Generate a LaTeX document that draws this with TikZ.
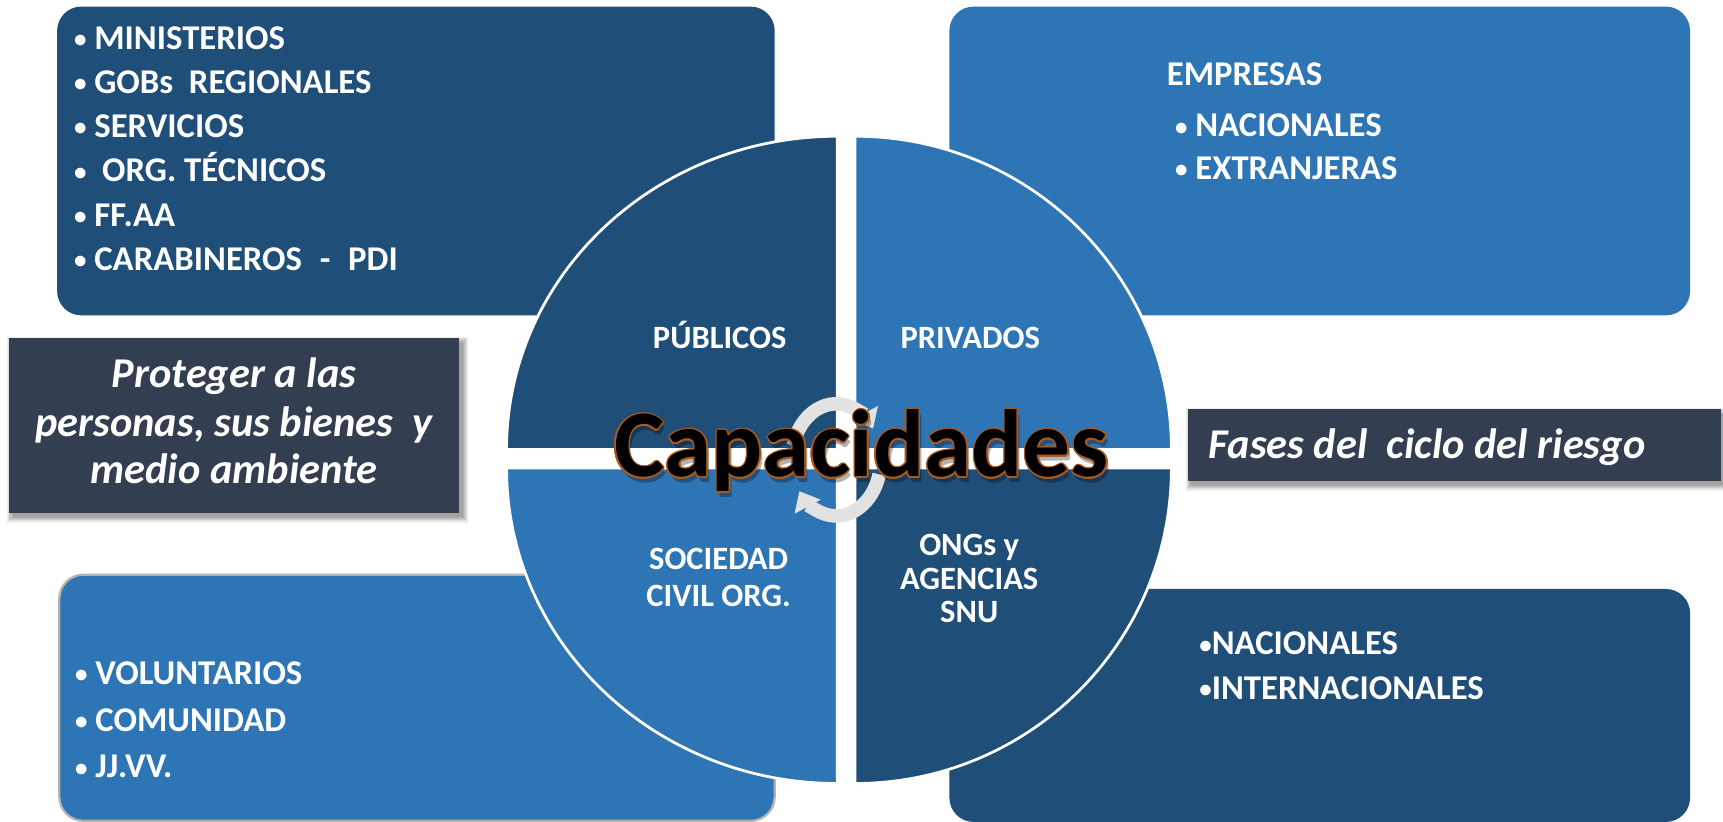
\documentclass[tikz,border=0pt]{standalone}
\usepackage{fontspec}
\setmainfont{Carlito}
\usetikzlibrary{arrows.meta,calc}
\definecolor{dblue}{HTML}{1F4E79}
\definecolor{mblue}{HTML}{2E75B6}
\definecolor{slate}{HTML}{333F50}
\definecolor{ringgray}{HTML}{E2E2E2}
\definecolor{capedge}{HTML}{A85A1E}
\newcommand\myitemfont{\fontsize{15.8}{19}\selectfont\bfseries}
\newcommand\mylabelfont{\fontsize{14.8}{18}\selectfont\bfseries}
\newcommand\myitalfont{\fontsize{19.3}{23}\selectfont\bfseries\itshape}
\newcommand\mycapfont{\fontsize{43.4}{50}\selectfont\bfseries}
\newcommand\mybul{\raisebox{0.1ex}{\scalebox{0.72}{•}}}
\begin{document}
\begin{tikzpicture}[x=0.5pt,y=-0.5pt,
  item/.style={text=white,font=\myitemfont,anchor=base west,inner sep=0pt},
  qlabel/.style={text=white,font=\mylabelfont,anchor=base,inner sep=0pt},
  ital/.style={text=white,font=\myitalfont,inner sep=0pt},
  bigbox/.style={rounded corners=11pt},
  quad/.style={draw=white,line width=1.25pt},
  ring/.style={ringgray,line width=6.2pt,-{Triangle[width=13pt,length=8pt]}},
  shadowlayer/.style={fill=black,opacity=0.07},
  captext/.style={anchor=base,font=\mycapfont,inner sep=0pt},
]
\useasboundingbox (0,0) rectangle (1568,748);
\fill[white] (0,0) rectangle (1568,748);

% outer boxes
\fill[dblue,bigbox] (52,6) rectangle (705,287);
\fill[mblue,bigbox] (864,6) rectangle (1538,287);
\filldraw[fill=mblue,draw=gray!60,line width=1pt,bigbox] (54,523) rectangle (705,747);
\fill[dblue,bigbox] (864,536) rectangle (1538,748);

% quadrants
\filldraw[fill=dblue,quad] (762,409) -- (461,409) arc[start angle=180,end angle=270,x radius=301,y radius=285] -- cycle;
\filldraw[fill=mblue,quad] (778,409) -- (778,124) arc[start angle=270,end angle=360,x radius=288,y radius=285] -- cycle;
\filldraw[fill=mblue,quad] (762,426) -- (461,426) arc[start angle=180,end angle=90,x radius=301,y radius=287] -- cycle;
\filldraw[fill=dblue,quad] (778,426) -- (1066,426) arc[start angle=0,end angle=90,x radius=288,y radius=287] -- cycle;

% side dark boxes with shadows
\foreach \i in {1,...,6}{
  \fill[shadowlayer] (8.5+4-\i,307.8+5-\i) rectangle (418+2+\i,466.5+3+\i);
  \fill[shadowlayer] (1081+4-\i,372.5+5-\i) rectangle (1566+2+\i,437.4+3+\i);
}
\fill[slate] (8.5,307.8) rectangle (418,466.5);
\fill[slate] (1081,372.5) rectangle (1566,437.4);

% lists
\node[item] (m1) at (67,44.9) {\mybul\ MINISTERIOS};
\node[item] (m2) at (67,85.1) {\mybul\ GOBs\ \ REGIONALES};
\node[item] (m3) at (67,125.3) {\mybul\ SERVICIOS};
\node[item] (m4) at (67,165.5) {\mybul\ \ ORG. TÉCNICOS};
\node[item] (m5) at (67,205.7) {\mybul\ FF.AA};
\node[item] (m6) at (67,245.9) {\mybul\ CARABINEROS\hspace{4.5pt} -\hspace{4.5pt} PDI};

\node[item] (e0) at (1061.5,78) {EMPRESAS};
\node[item] (e1) at (1069,124.4) {\mybul\ NACIONALES};
\node[item] (e2) at (1069,163.2) {\mybul\ EXTRANJERAS};

\node[item] (v1) at (68,623) {\mybul\ VOLUNTARIOS};
\node[item] (v2) at (68,665.8) {\mybul\ COMUNIDAD};
\node[item] (v3) at (68,708) {\mybul\ JJ.VV.};

\node[item] (n1) at (1091,596) {\mybul NACIONALES};
\node[item] (n2) at (1091,636.3) {\mybul INTERNACIONALES};

% quadrant labels
\node[qlabel] (q1) at (655,317.6) {PÚBLICOS};
\node[qlabel] (q2) at (883,317.6) {PRIVADOS};
\node[qlabel] (q3a) at (654,518.7) {SOCIEDAD};
\node[qlabel] (q3b) at (654,552) {CIVIL ORG.};
\node[qlabel] (q4a) at (882,505.8) {ONGs y};
\node[qlabel] (q4b) at (882,536.2) {AGENCIAS};
\node[qlabel] (q4c) at (882,566.6) {SNU};

% side texts
\node[ital,anchor=base] (p1) at (213,353) {Proteger a las};
\node[ital,anchor=base] (p2) at (213,397) {personas, sus bienes\ \ y};
\node[ital,anchor=base] (p3) at (213,440) {medio ambiente};
\node[ital,anchor=base west] (f1) at (1099.6,417) {Fases del\ \ ciclo del riesgo};

% circular arrows
\coordinate (cc) at (761,418.5);
\draw[ring] ($(cc)+(-165:40.5 and 51)$) arc[start angle=-165,end angle=-34,x radius=40.5,y radius=51];
\draw[ring] ($(cc)+(15:40.5 and 51)$) arc[start angle=15,end angle=146,x radius=40.5,y radius=51];

% Capacidades
\node[captext,text=black,opacity=0.3] (capsh) at (786.5,439) {Capacidades};
\foreach \a in {0,30,...,330}{
  \node[captext,text=capedge] (capo\a) at ($(784,434)+(\a:1.3)$) {Capacidades};
}
\node[captext,text=black] (cap) at (784,434) {Capacidades};
\end{tikzpicture}
\end{document}
